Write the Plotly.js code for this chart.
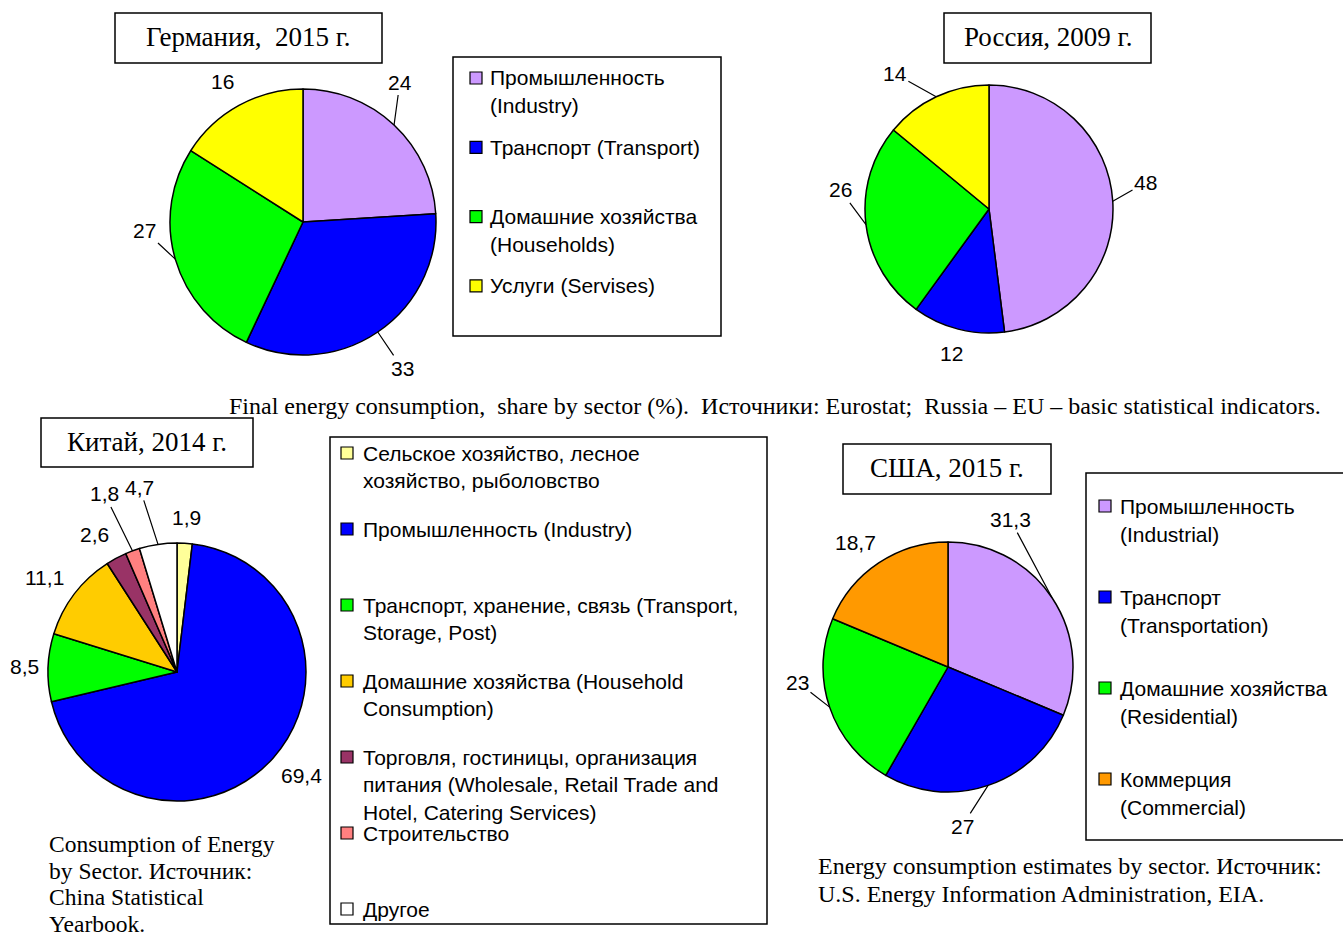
<!DOCTYPE html>
<html><head><meta charset="utf-8">
<script src="https://cdn.plot.ly/plotly-3.0.1.min.js"></script>
<style>html,body{margin:0;padding:0;background:#fff;overflow:hidden}#chart{width:1343px;height:937px}</style>
</head><body><div id="chart"></div>
<script>
// ---------------- DATA ----------------
const deCategories = ["Промышленность<br>(Industry)", "Транспорт (Transport)", "Домашние хозяйства<br>(Households)", "Услуги (Servises)"];
const deValues = [24, 33, 27, 16];
const ruCategories = deCategories;
const ruValues = [48, 12, 26, 14];
const cnCategories = ["Сельское хозяйство, лесное<br>хозяйство, рыболовство", "Промышленность (Industry)", "Транспорт, хранение, связь (Transport,<br>Storage, Post)", "Домашние хозяйства (Household<br>Consumption)", "Торговля, гостиницы, организация<br>питания (Wholesale, Retail Trade and<br>Hotel, Catering Services)", "Строительство", "Другое"];
const cnValues = [1.9, 69.4, 8.5, 11.1, 2.6, 1.8, 4.7];
const usCategories = ["Промышленность<br>(Industrial)", "Транспорт<br>(Transportation)", "Домашние хозяйства<br>(Residential)", "Коммерция<br>(Commercial)"];
const usValues = [31.3, 27, 23, 18.7];

const deTitle = "Германия,  2015 г.";
const ruTitle = "Россия, 2009 г.";
const cnTitle = "Китай, 2014 г.";
const usTitle = "США, 2015 г.";
const euCaption = ["Final energy consumption,  share by sector (%).  Источники: Eurostat;  Russia – EU – basic statistical indicators."];
const cnCaption = ["Consumption of Energy", "by Sector. Источник:", "China Statistical", "Yearbook."];
const usCaption = ["Energy consumption estimates by sector. Источник:", "U.S. Energy Information Administration, EIA."];

// ---------------- STYLE / LAYOUT ----------------
const W = 1343, H = 937;
const euColors = ['#CC99FF', '#0000FF', '#00FF00', '#FFFF00'];
const cnColors = ['#FFFF99', '#0000FF', '#00FF00', '#FFCC00', '#993366', '#FF8080', '#FFFFFF'];
const usColors = ['#CC99FF', '#0000FF', '#00FF00', '#FF9900'];
const SANS = 'Liberation Sans, Arial, sans-serif';
const SERIF = 'Liberation Serif, Times New Roman, serif';
const LABEL_SIZE = 21, LEGEND_SIZE = 21, TITLE_SIZE = 27;

// label placement: distance factor (x radius) and angular nudge (degrees) from slice middle
const pies = [
  {values: deValues, labels: deCategories, colors: euColors, cx: 303, cy: 222, r: 133,
   dist: [1.28, 1.33, 1.19, 1.22], shift: [-8.5, 0, 13, -1], leader: [true, true, true, false]},
  {values: ruValues, labels: ruCategories, colors: euColors, cx: 989, cy: 209, r: 124,
   dist: [1.28, 1.2, 1.21, 1.33], shift: [-6, 0, 14.5, -9.6], leader: [true, false, true, true]},
  {values: cnValues, labels: cnCategories, colors: cnColors, cx: 177, cy: 672, r: 129,
   dist: [1.2, 1.26, 1.18, 1.26, 1.24, 1.49, 1.46], shift: [0, -2, 0, -1.6, -2.8, -2, -3],
   leader: [false, false, false, false, false, true, true]},
  {values: usValues, labels: usCategories, colors: usColors, cx: 948, cy: 667, r: 125,
   dist: [1.28, 1.28, 1.21, 1.24], shift: [-33.4, 13.7, 13, -3.2], leader: [true, true, true, false]}
];
const titleBoxes = [
  {text: deTitle, x0: 115, y0: 13, x1: 382, y1: 63},
  {text: ruTitle, x0: 944, y0: 13, x1: 1151, y1: 63},
  {text: cnTitle, x0: 41, y0: 418, x1: 253, y1: 467},
  {text: usTitle, x0: 843, y0: 444, x1: 1051, y1: 494}
];
const legends = [
  {labels: deCategories, colors: euColors, x0: 453, y0: 57, x1: 721, y1: 336, sq: 476, tx: 488, first: 78, step: 69.3, line: 28},
  {labels: cnCategories, colors: cnColors, x0: 330, y0: 437, x1: 767, y1: 924, sq: 347, tx: 361, first: 453, step: 76, line: 27.5},
  {labels: usCategories, colors: usColors, x0: 1086, y0: 473, x1: 1346, y1: 840, sq: 1105, tx: 1118, first: 506, step: 91, line: 28}
];
const captions = [
  {lines: euCaption, x: 227, y: 406, line: 27, size: 24},
  {lines: cnCaption, x: 47, y: 844, line: 26.5, size: 23.5},
  {lines: usCaption, x: 816, y: 866, line: 28, size: 24}
];

const px = x => x / W;
const py = y => 1 - y / H;
const fmt = v => String(v).replace('.', ',');

const traces = [];
const annotations = [];
const shapes = [];

pies.forEach(p => {
  traces.push({
    type: 'pie', values: p.values, labels: p.labels,
    marker: {colors: p.colors, line: {color: '#000', width: 1.5}},
    sort: false, direction: 'clockwise', rotation: 0,
    textinfo: 'none', hoverinfo: 'label+value', showlegend: false,
    domain: {x: [px(p.cx - p.r), px(p.cx + p.r)], y: [py(p.cy + p.r), py(p.cy - p.r)]}
  });
  const total = p.values.reduce((a, b) => a + b, 0);
  let cum = 0;
  p.values.forEach((v, i) => {
    const mid = (cum + v / 2) / total * 2 * Math.PI;
    cum += v;
    const th = mid + p.shift[i] * Math.PI / 180;
    const R = p.r * p.dist[i];
    const lx = p.cx + R * Math.sin(th), ly = p.cy - R * Math.cos(th);
    const base = {text: fmt(v), font: {family: SANS, size: LABEL_SIZE, color: '#000'}, xref: 'paper', yref: 'paper'};
    if (p.leader[i]) {
      const hx = p.cx + p.r * Math.sin(mid), hy = p.cy - p.r * Math.cos(mid);
      annotations.push(Object.assign(base, {x: px(hx), y: py(hy), ax: lx - hx, ay: ly - hy,
        showarrow: true, arrowhead: 0, arrowwidth: 1.2, arrowcolor: '#000', standoff: 0}));
    } else {
      annotations.push(Object.assign(base, {x: px(lx), y: py(ly), showarrow: false,
        xanchor: 'center', yanchor: 'middle'}));
    }
  });
});

titleBoxes.forEach(b => {
  shapes.push({type: 'rect', xref: 'paper', yref: 'paper', x0: px(b.x0), x1: px(b.x1), y0: py(b.y1), y1: py(b.y0),
    line: {color: '#000', width: 1.5}, fillcolor: '#fff'});
  annotations.push({text: b.text, xref: 'paper', yref: 'paper', x: px((b.x0 + b.x1) / 2), y: py((b.y0 + b.y1) / 2 - 1),
    showarrow: false, xanchor: 'center', yanchor: 'middle', font: {family: SERIF, size: TITLE_SIZE, color: '#000'}});
});

legends.forEach(L => {
  shapes.push({type: 'rect', xref: 'paper', yref: 'paper', x0: px(L.x0), x1: px(L.x1), y0: py(L.y1), y1: py(L.y0),
    line: {color: '#000', width: 1.5}, fillcolor: 'rgba(0,0,0,0)'});
  L.labels.forEach((lab, i) => {
    const yc = L.first + i * L.step;
    shapes.push({type: 'rect', xref: 'paper', yref: 'paper', x0: px(L.sq - 6), x1: px(L.sq + 6),
      y0: py(yc + 6), y1: py(yc - 6), line: {color: '#000', width: 1.2}, fillcolor: L.colors[i]});
    lab.split('<br>').forEach((t, k) => {
      annotations.push({text: t, xref: 'paper', yref: 'paper', x: px(L.tx), y: py(yc + k * L.line),
        showarrow: false, xanchor: 'left', yanchor: 'middle', font: {family: SANS, size: LEGEND_SIZE, color: '#000'}});
    });
  });
});

captions.forEach(C => {
  C.lines.forEach((t, k) => {
    annotations.push({text: t, xref: 'paper', yref: 'paper', x: px(C.x), y: py(C.y + k * C.line),
      showarrow: false, xanchor: 'left', yanchor: 'middle', font: {family: SERIF, size: C.size, color: '#000'}});
  });
});

const layout = {
  width: W, height: H, margin: {l: 0, r: 0, t: 0, b: 0},
  paper_bgcolor: '#fff', plot_bgcolor: '#fff', showlegend: false,
  shapes: shapes, annotations: annotations
};
Plotly.newPlot('chart', traces, layout, {displayModeBar: false, staticPlot: true});
</script>
</body></html>
